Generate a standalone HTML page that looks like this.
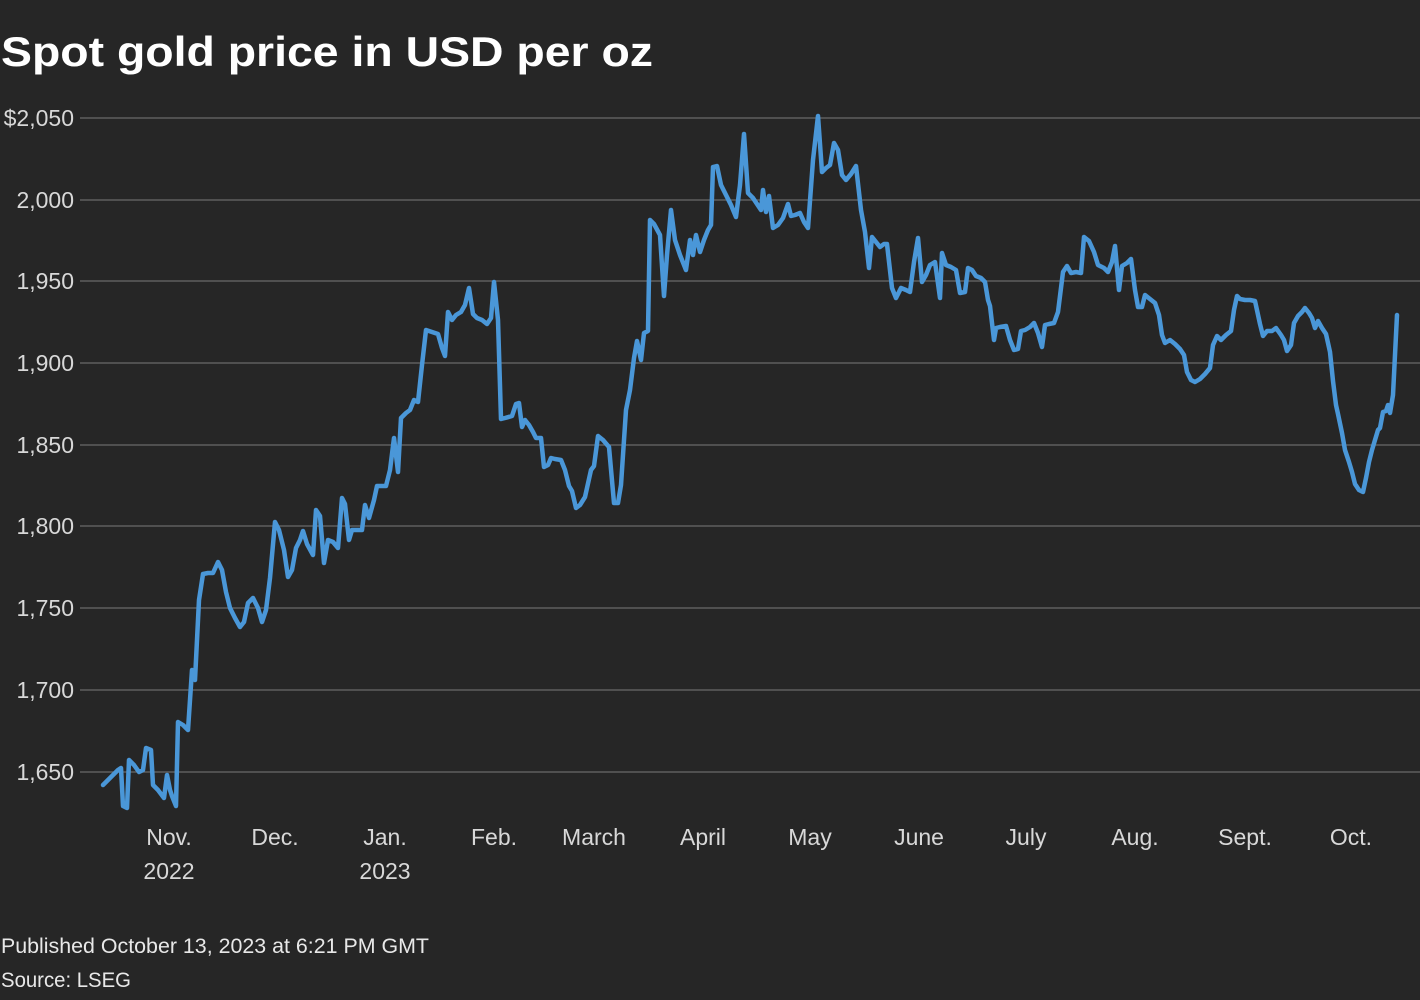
<!DOCTYPE html>
<html><head><meta charset="utf-8"><style>
html,body{margin:0;padding:0;background:#262626;}
svg{display:block}
text{font-family:"Liberation Sans",sans-serif;}
</style></head><body>
<svg width="1420" height="1000" viewBox="0 0 1420 1000" xmlns="http://www.w3.org/2000/svg">
<rect width="1420" height="1000" fill="#262626"/>
<text x="1" y="66" fill="#fff" font-size="42" font-weight="bold" textLength="652" lengthAdjust="spacingAndGlyphs">Spot gold price in USD per oz</text>
<g stroke="#6a6a6a" stroke-width="1.3">
<line x1="80" y1="118" x2="1420" y2="118"/>
<line x1="80" y1="200" x2="1420" y2="200"/>
<line x1="80" y1="281" x2="1420" y2="281"/>
<line x1="80" y1="363" x2="1420" y2="363"/>
<line x1="80" y1="445" x2="1420" y2="445"/>
<line x1="80" y1="526" x2="1420" y2="526"/>
<line x1="80" y1="608" x2="1420" y2="608"/>
<line x1="80" y1="690" x2="1420" y2="690"/>
<line x1="80" y1="772" x2="1420" y2="772"/>
</g>
<g fill="#d8d8d8" font-size="23" text-anchor="end">
<text x="74" y="126">$2,050</text>
<text x="74" y="208">2,000</text>
<text x="74" y="289">1,950</text>
<text x="74" y="371">1,900</text>
<text x="74" y="453">1,850</text>
<text x="74" y="534">1,800</text>
<text x="74" y="616">1,750</text>
<text x="74" y="698">1,700</text>
<text x="74" y="780">1,650</text>
</g>
<g fill="#d8d8d8" font-size="23" text-anchor="middle">
<text x="169" y="845">Nov.</text><text x="169" y="879">2022</text>
<text x="275" y="845">Dec.</text>
<text x="385" y="845">Jan.</text><text x="385" y="879">2023</text>
<text x="494" y="845">Feb.</text>
<text x="594" y="845">March</text>
<text x="703" y="845">April</text>
<text x="810" y="845">May</text>
<text x="919" y="845">June</text>
<text x="1026" y="845">July</text>
<text x="1135" y="845">Aug.</text>
<text x="1245" y="845">Sept.</text>
<text x="1351" y="845">Oct.</text>
</g>
<polyline fill="none" stroke="#4a97d8" stroke-width="4.5" stroke-linejoin="round" stroke-linecap="round" points="103,785 110,778 118,770 121,768 123,806 127,808 129,760 134,765 139,772 143,770 146,748 151,750 153,785 158,790 164,798 167,775 170,790 172,796 176,806 178,722 183,725 188,730 192,670 195,680 199,600 203,574 208,573 213,573 218,562 222,570 226,592 230,608 235,618 240,627 244,622 248,603 253,598 258,608 262,622 266,610 270,578 275,522 279,530 284,550 288,577 292,570 296,548 300,540 303,531 307,544 313,555 316,510 320,516 324,563 328,540 333,542 338,548 342,498 345,504 349,540 352,530 357,530 362,530 365,505 369,518 374,500 377,486 386,486 390,470 394,438 398,472 401,418 406,413 410,410 414,400 418,402 422,365 426,330 432,332 438,334 442,348 445,356 448,312 452,320 456,315 461,312 465,305 469,288 473,314 477,318 482,320 487,324 491,318 494,282 498,320 501,419 505,418 512,416 516,404 519,403 522,427 525,420 529,425 533,432 536,438 541,438 544,467 548,465 551,458 555,459 561,460 565,470 569,486 572,491 576,508 580,505 585,497 591,470 594,466 598,436 603,440 609,447 614,503 618,503 621,485 626,410 630,390 634,358 637,341 641,360 644,333 648,331 650,220 654,224 660,235 664,296 667,255 671,210 675,240 680,255 686,270 690,240 693,255 696,235 700,252 704,240 708,230 711,225 713,167 717,166 721,185 726,195 731,205 736,217 740,185 744,134 748,193 753,198 757,204 761,210 763,190 766,212 769,196 773,228 778,225 783,218 788,204 791,216 795,215 800,213 804,222 808,228 813,160 818,116 822,172 826,168 830,165 834,143 838,150 842,175 846,180 851,174 856,166 861,210 865,232 869,268 872,237 876,242 880,247 884,244 887,244 892,288 896,298 901,288 906,290 910,292 914,262 918,238 922,282 926,275 930,265 935,262 940,298 942,253 946,265 951,267 956,270 960,293 965,292 968,268 972,270 976,276 981,278 985,282 988,300 990,306 994,340 996,328 1000,327 1006,326 1010,340 1014,350 1018,349 1021,331 1025,330 1030,327 1034,323 1038,333 1042,347 1045,325 1049,324 1054,323 1058,312 1063,272 1067,266 1071,273 1076,272 1081,273 1084,237 1089,241 1094,252 1098,265 1104,268 1108,272 1112,262 1115,246 1119,290 1122,266 1127,263 1131,259 1135,290 1138,307 1142,307 1145,295 1150,299 1155,303 1159,315 1162,335 1165,343 1170,340 1175,344 1180,349 1184,355 1187,372 1191,380 1195,382 1200,379 1205,374 1210,368 1213,345 1217,336 1221,340 1226,335 1231,331 1234,310 1237,296 1240,299 1245,300 1250,300 1255,301 1260,324 1263,336 1267,331 1272,331 1276,328 1281,335 1284,340 1287,351 1291,345 1294,323 1298,316 1302,312 1305,308 1309,313 1312,318 1315,328 1318,321 1322,328 1326,334 1330,352 1333,381 1336,405 1338,414 1342,433 1345,450 1349,462 1352,472 1355,484 1359,490 1363,492 1366,478 1369,462 1372,450 1375,440 1378,430 1380,428 1383,412 1386,411 1388,405 1390,413 1393,395 1397,315"/>
<text x="1" y="953" fill="#e8e8e8" font-size="21" textLength="428" lengthAdjust="spacingAndGlyphs">Published October 13, 2023 at 6:21 PM GMT</text>
<text x="1" y="987" fill="#e8e8e8" font-size="21" textLength="130" lengthAdjust="spacingAndGlyphs">Source: LSEG</text>
</svg>
</body></html>
